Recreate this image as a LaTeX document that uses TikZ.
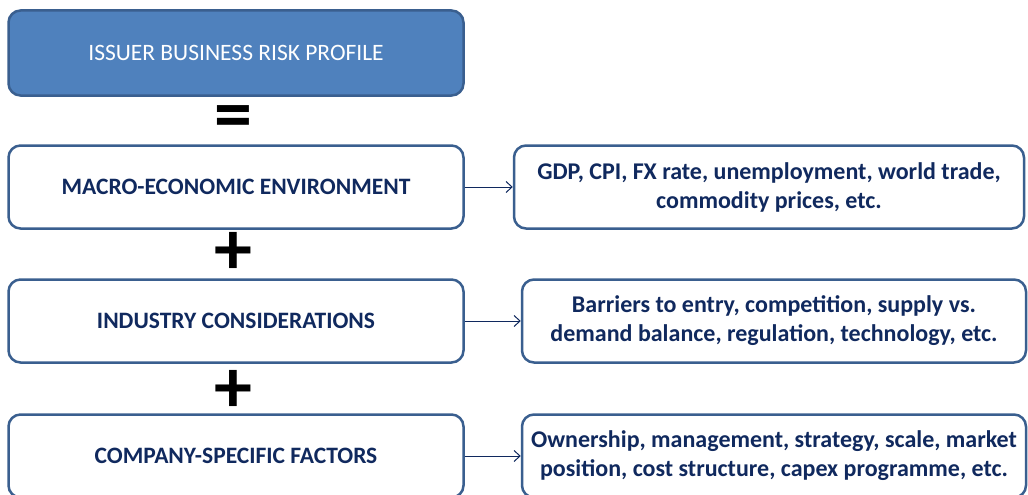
\documentclass[tikz,border=0pt]{standalone}
\usepackage{fontspec}
\setmainfont{Carlito}
\usetikzlibrary{positioning,arrows.meta}
\definecolor{frame}{HTML}{3A5F8F}
\definecolor{topfill}{HTML}{4F81BD}
\definecolor{ink}{HTML}{10295E}
\begin{document}
\begin{tikzpicture}[x=1pt, y=-1pt, line join=round,
  box/.style={draw=frame, line width=2.5pt, rounded corners=12pt, fill=white, align=center, text=ink,
    font=\fontsize{23.5}{29}\selectfont\bfseries, inner sep=0pt, minimum height=83pt},
  sign/.style={font=\fontsize{76}{76}\selectfont\bfseries, inner sep=0pt}]
\useasboundingbox (0,0) rectangle (1028,495);
\clip (0,0) rectangle (1028,495);
\node[box, fill=topfill, text=white, font=\fontsize{23.5}{28}\selectfont, minimum width=455pt, minimum height=85pt] (top) at (236,53) {ISSUER BUSINESS RISK PROFILE};
\foreach \n/\y/\rx/\rw/\lt/\rt in {1/187/769/510/{MACRO-ECONOMIC ENVIRONMENT}/{GDP, CPI, FX rate, unemployment, world trade,\\commodity prices, etc.},
  2/321/774/504/{INDUSTRY CONSIDERATIONS}/{Barriers to entry, competition, supply vs.\\demand balance, regulation, technology, etc.},
  3/456/774/504/{COMPANY-SPECIFIC FACTORS}/{Ownership, management, strategy, scale, market\\position, cost structure, capex programme, etc.}}{
  \node[box, minimum width=455pt] (L\n) at (236,\y) {\lt};
  \node[box, minimum width=\rw pt, font=\fontsize{24}{29}\selectfont\bfseries] (R\n) at (\rx,\y) {\rt};
  \draw[-{Straight Barb[length=6pt,width=11pt]}, ink, line width=1pt] (L\n) -- (R\n);
}
\node[sign] (eq) at (233,123) {=};
\node[sign] (plusA) at (233,253) {+};
\node[sign] (plusB) at (233,391) {+};
\end{tikzpicture}
\end{document}
